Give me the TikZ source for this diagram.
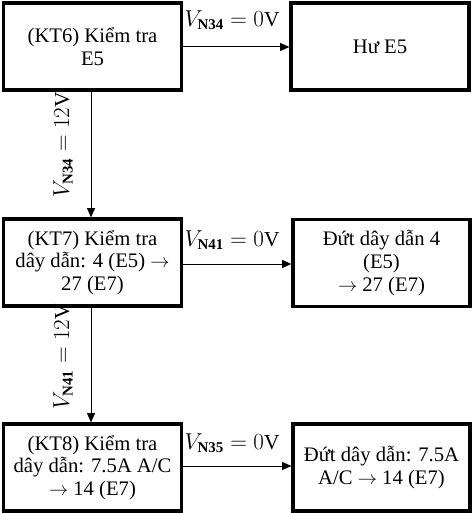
\documentclass[tikz,border=0pt]{standalone}
\usepackage{fontspec}
\setmainfont{Liberation Serif}
\usetikzlibrary{arrows.meta}
\begin{document}
\begin{tikzpicture}[x=0.75pt,y=-0.75pt,
  box/.style={draw,line width=2.4pt,minimum width=178*0.75pt,minimum height=87*0.75pt,align=center,inner sep=0pt,font=\fontsize{15.5}{17}\selectfont},
  conn/.style={line width=0.75pt,-{Triangle[length=7pt,width=6pt]}},
  lab/.style={font=\fontsize{16}{16.5}\selectfont,inner sep=0pt}]
\useasboundingbox (0,0) rectangle (473,513);
\node[box] (kt6) at (92.5,46.5) {(KT6) Kiểm tra\\E5};
\node[box] (hu) at (380,46.5) {Hư E5};
\node[box] (kt7) at (92.5,262.5) {(KT7) Kiểm tra\\dây dẫn: 4 (E5) $\rightarrow$\\27 (E7)};
\node[box,minimum width=177*0.75pt] (d4) at (381.5,263) {Đứt dây dẫn 4\\(E5)\\$\rightarrow$ 27 (E7)};
\node[box] (kt8) at (92.5,467.5) {(KT8) Kiểm tra\\dây dẫn: 7.5A A/C\\$\rightarrow$ 14 (E7)};
\node[box,minimum width=177*0.75pt] (d75) at (381.5,467.5) {Đứt dây dẫn: 7.5A\\A/C $\rightarrow$ 14 (E7)};
\coordinate (a1) at (91,0);
\draw[conn] (kt6.east |- 0,47) -- (hu.west |- 0,47);
\draw[conn] (kt7.east |- 0,264) -- (d4.west |- 0,264);
\draw[conn] (kt8.east |- 0,466) -- (d75.west |- 0,466);
\draw[conn] (kt6.south -| a1) -- (kt7.north -| a1);
\draw[conn] (kt7.south -| a1) -- (kt8.north -| a1);
\node[lab] (l1) at (232,20) {$V_{\mathbf{N34}}=0\mathrm{V}$};
\node[lab] (l2) at (232,240) {$V_{\mathbf{N41}}=0\mathrm{V}$};
\node[lab] (l3) at (232,443) {$V_{\mathbf{N35}}=0\mathrm{V}$};
\node[lab,rotate=90] (l4) at (63,145) {$V_{\mathbf{N34}}=12\mathrm{V}$};
\node[lab,rotate=90] (l5) at (63,357) {$V_{\mathbf{N41}}=12\mathrm{V}$};
\end{tikzpicture}
\end{document}
